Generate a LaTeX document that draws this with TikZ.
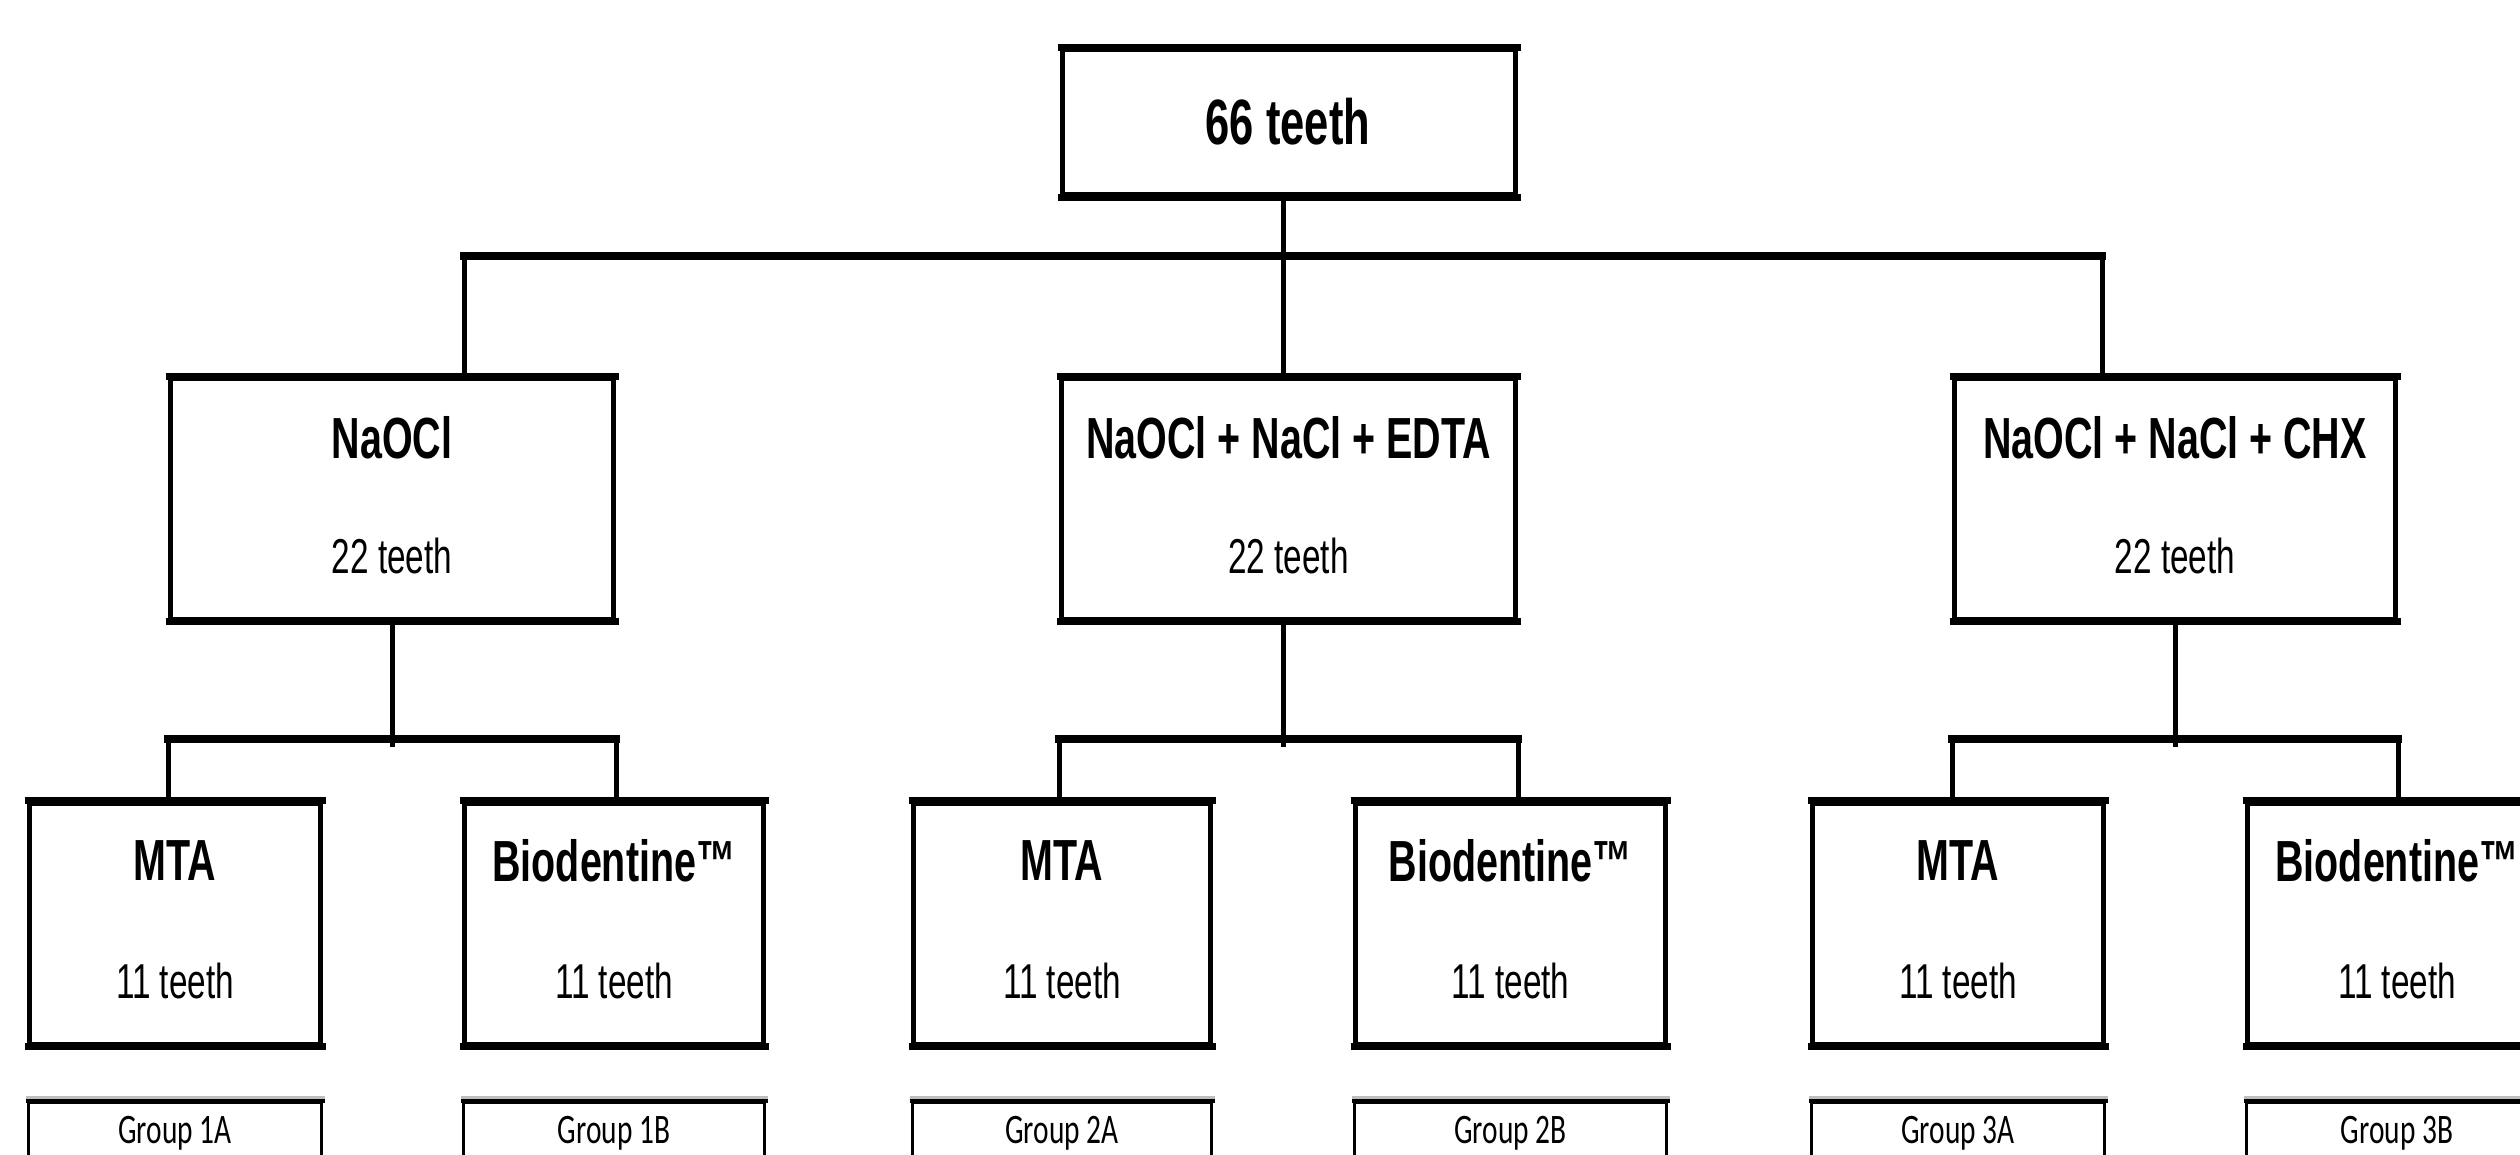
\documentclass[tikz,border=0pt]{standalone}
\usepackage{fontspec}
\newfontfamily\narrowsans{Liberation Sans}[FakeStretch=0.68]
\newfontfamily\narrowcal{Carlito}[FakeStretch=0.7]
\definecolor{groupgray}{RGB}{190,190,190}
\begin{document}
\begin{tikzpicture}[x=1pt,y=-1pt,
  framebox/.style={draw=black, line width=5pt, inner sep=0pt, rectangle},
  lvlone/.style={framebox, minimum height=145pt},
  lvltwo/.style={framebox, minimum height=240pt},
  lvlthree/.style={framebox, minimum height=241pt},
  grpbox/.style={draw=black, line width=3pt, inner sep=0pt, minimum height=100pt},
  bigtxt/.style={inner sep=0pt, font=\narrowsans\bfseries\fontsize{64}{68}\selectfont},
  headtxt/.style={inner sep=0pt, font=\narrowsans\bfseries\fontsize{58}{62}\selectfont},
  counttxt/.style={inner sep=0pt, font=\narrowsans\fontsize{49}{52}\selectfont},
  grptxt/.style={inner sep=0pt, anchor=base, font=\narrowcal\fontsize{42}{46}\selectfont},
  hline/.style={line width=8pt, line cap=rect},
  vline/.style={line width=5pt},
  thickedge/.style={line width=7.5pt, shorten <=-2.5pt, shorten >=-2.5pt},
  grpedge/.style={line width=4pt, shorten <=-1.5pt, shorten >=-1.5pt},
  grpshade/.style={groupgray, line width=3pt, shorten <=-1.5pt, shorten >=-1.5pt}
]
\useasboundingbox (0,0) rectangle (2520,1155);
\clip (0,0) rectangle (2520,1155);

% helper coordinates
\coordinate (spine) at (1283,256);
\coordinate (b1l) at (464,256);
\coordinate (b1r) at (2102,256);
\coordinate (y2) at (0,739);
\coordinate (y2e) at (0,747);

% level 1
\node[lvlone, minimum width=453pt] (top) at (1289,122.5) {};
\node[bigtxt] (top-t) at (1288,122) {66 teeth};

% level 2
\node[lvltwo, minimum width=443pt] (naocl) at (392,499) {};
\node[lvltwo, minimum width=454pt] (edta) at (1288.5,499) {};
\node[lvltwo, minimum width=441pt] (chx) at (2175,499) {};
\node[headtxt] (naocl-t) at (392,438) {NaOCl};
\node[counttxt] (naocl-n) at (392,556) {22 teeth};
\node[headtxt] (edta-t) at (1288.5,438) {NaOCl + NaCl + EDTA};
\node[counttxt] (edta-n) at (1288.5,556) {22 teeth};
\node[headtxt] (chx-t) at (2175,438) {NaOCl + NaCl + CHX};
\node[counttxt] (chx-n) at (2175,556) {22 teeth};

% level 3
\node[lvlthree, minimum width=291pt] (mta1) at (175,923.5) {};
\node[lvlthree, minimum width=299pt] (bio1) at (614,923.5) {};
\node[lvlthree, minimum width=297pt] (mta2) at (1062,923.5) {};
\node[lvlthree, minimum width=310pt] (bio2) at (1510.5,923.5) {};
\node[lvlthree, minimum width=291pt] (mta3) at (1958,923.5) {};
\node[lvlthree, minimum width=299pt] (bio3) at (2397,923.5) {};

\foreach \n/\t in {mta1/MTA, bio1/Biodentine™, mta2/MTA, bio2/Biodentine™, mta3/MTA, bio3/Biodentine™}{
  \node[headtxt] (\n-t) at (\n.center |- 0,861) {\t};
  \node[counttxt] (\n-n) at (\n.center |- 0,981) {11 teeth};
}

% group boxes
\node[grpbox, minimum width=293pt] (g1a) at (175,1152) {};
\node[grpbox, minimum width=301pt] (g1b) at (614,1152) {};
\node[grpbox, minimum width=299pt] (g2a) at (1062,1152) {};
\node[grpbox, minimum width=312pt] (g2b) at (1510.5,1152) {};
\node[grpbox, minimum width=293pt] (g3a) at (1958,1152) {};
\node[grpbox, minimum width=301pt] (g3b) at (2397,1152) {};
\foreach \n/\t in {g1a/Group 1A, g1b/Group 1B, g2a/Group 2A, g2b/Group 2B, g3a/Group 3A, g3b/Group 3B}{
  \node[grptxt] (\n-t) at (\n.center |- 0,1143) {\t};
  \draw[grpedge] (\n.north west) -- (\n.north east);
  \draw[grpshade] ([yshift=3.5pt]\n.north west) -- ([yshift=3.5pt]\n.north east);
}

% thick top / bottom edges
\foreach \n in {top,naocl,edta,chx,mta1,bio1,mta2,bio2,mta3,bio3}{
  \draw[thickedge] (\n.north west) -- (\n.north east);
  \draw[thickedge] (\n.south west) -- (\n.south east);
}

% connectors level 1 -> level 2
\draw[vline] (top.south -| spine) -- (edta.north -| spine);
\draw[hline] (b1l) -- (b1r);
\draw[vline] (b1l) -- (b1l |- naocl.north);
\draw[vline] (b1r) -- (b1r |- chx.north);

% connectors level 2 -> level 3
\draw[vline] (naocl.south) -- (naocl.south |- y2e);
\draw[vline] (edta.south -| spine) -- (spine |- y2e);
\draw[vline] (chx.south) -- (chx.south |- y2e);
\foreach \p/\l/\r in {naocl/mta1/bio1, edta/mta2/bio2, chx/mta3/bio3}{
  \draw[hline] (\p.west |- y2) -- (\p.east |- y2);
  \draw[vline] (\p.west |- y2) -- (\p.west |- \l.north);
  \draw[vline] (\p.east |- y2) -- (\p.east |- \r.north);
}
\end{tikzpicture}
\end{document}
